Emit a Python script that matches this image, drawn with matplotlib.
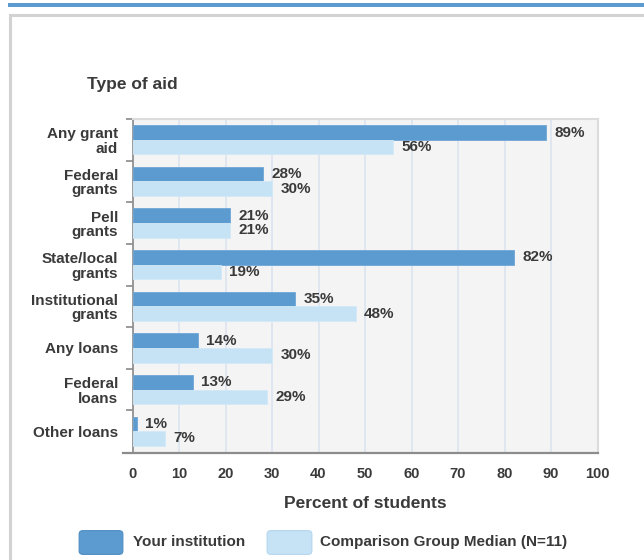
import numpy as np
import matplotlib
matplotlib.use("Agg")
import matplotlib.pyplot as plt
from matplotlib.patches import Rectangle, FancyBboxPatch

plt.rcParams['font.family'] = ['Liberation Sans', 'DejaVu Sans']
plt.rcParams['font.weight'] = 'bold'

# data
categories = ["Any grant\naid", "Federal\ngrants", "Pell\ngrants", "State/local\ngrants",
              "Institutional\ngrants", "Any loans", "Federal\nloans", "Other loans"]
your_inst = [89, 28, 21, 82, 35, 14, 13, 1]
comparison = [56, 30, 21, 19, 48, 30, 29, 7]
series_names = ["Your institution", "Comparison Group Median (N=11)"]

DARK = "#5b9bd0"
LIGHT = "#c6e3f6"
TXT = "#3a3a3a"

W, H = 644, 560
fig = plt.figure(figsize=(W / 100, H / 100), dpi=100)

def fx(px):
    return px / W

def fy(py):
    return 1 - py / H

# page decorations: top stripe and card border
fig.patches.append(Rectangle((fx(8), fy(7)), 1, fy(3) - fy(7), transform=fig.transFigure,
                             color=DARK, lw=0))
fig.patches.append(Rectangle((fx(9.5), fy(600)), 1.2, fy(14.5) - fy(600), transform=fig.transFigure,
                             facecolor="none", edgecolor="#d2d2d2", lw=2.2))

left, right, top, bottom = 132.5, 597.5, 119, 452
ax = fig.add_axes([fx(left), fy(bottom), fx(right - left), fy(top) - fy(bottom)])
ax.set_facecolor("#f4f4f4")

y = np.arange(len(categories))
h = 0.35
ax.barh(y - h / 2, your_inst, height=h, color=DARK, edgecolor="#6fa6d6", lw=0.6, zorder=3)
ax.barh(y + h / 2, comparison, height=h, color=LIGHT, edgecolor="#d2e9f8", lw=0.6, zorder=3)

for i in range(len(categories)):
    ax.annotate(f"{your_inst[i]}%", (your_inst[i], y[i] - h / 2), xytext=(6, 0),
                textcoords="offset points", va="center", ha="left", fontsize=11,
                color=TXT, fontweight="bold")
    ax.annotate(f"{comparison[i]}%", (comparison[i], y[i] + h / 2), xytext=(6, 0),
                textcoords="offset points", va="center", ha="left", fontsize=11,
                color=TXT, fontweight="bold")

ax.set_xlim(0, 100)
ax.set_ylim(len(categories) - 0.5, -0.5)
ax.set_xticks(np.arange(0, 101, 10))
ax.xaxis.grid(True, color="#dde4ef", lw=1.2, zorder=0)
ax.set_axisbelow(True)

ax.set_yticks(y)
ax.set_yticklabels(categories, fontsize=11, color=TXT, fontweight="bold", linespacing=1.05)
ax.set_yticks(y - 0.5, minor=True)
ax.tick_params(axis="y", which="major", length=0, pad=10.5)
ax.tick_params(axis="y", which="minor", length=5, width=1.2, color="#8a8a8a", direction="out")
ax.tick_params(axis="x", length=0, pad=11, labelsize=10.5, labelcolor=TXT)
for lab in ax.get_xticklabels():
    lab.set_fontweight("bold")

for s in ["top", "right"]:
    ax.spines[s].set_color("#dcdcdc")
    ax.spines[s].set_linewidth(1.5)
ax.spines["left"].set_color("#8a8a8a")
ax.spines["left"].set_linewidth(1.2)
ax.spines["bottom"].set_visible(False)
# bottom axis line extends a bit left of the plot
fig.add_artist(plt.Line2D([fx(123), fx(598)], [fy(452.5), fy(452.5)], color="#8c8c8c", lw=1.6))

fig.text(fx(87), fy(85), "Type of aid", fontsize=12.5, color=TXT, fontweight="bold",
         ha="left", va="center")
fig.text(fx(365), fy(503), "Percent of students", fontsize=12.5, color=TXT, fontweight="bold",
         ha="center", va="center")

# legend
for (x0, x1, tx), col, ec, name in zip([(79, 123, 133), (267, 312, 320)], [DARK, LIGHT],
                                       ["#4f8cc2", "#b3d6ee"], series_names):
    fig.patches.append(FancyBboxPatch((fx(x0 + 4), fy(555 - 4)), fx(x1 - x0 - 8), fy(530 + 4) - fy(555 - 4),
                                      boxstyle="round,pad=0.006", transform=fig.transFigure,
                                      facecolor=col, edgecolor=ec, lw=0.8))
    fig.text(fx(tx), fy(542), name, fontsize=11, color=TXT, fontweight="bold",
             ha="left", va="center")

fig.savefig("out.png", dpi=100)
